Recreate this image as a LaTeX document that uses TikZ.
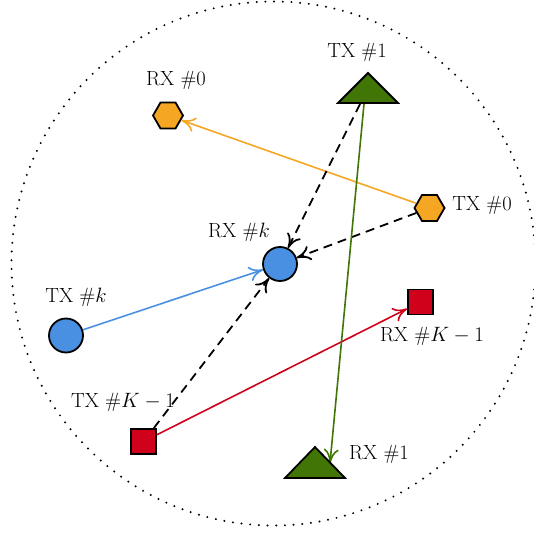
\documentclass[tikz,border=0pt]{standalone}
\usetikzlibrary{shapes.geometric,arrows.meta}
\definecolor{corange}{HTML}{F5A623}
\definecolor{cblue}{HTML}{4A90E2}
\definecolor{cred}{HTML}{D0021B}
\definecolor{cgreen}{HTML}{417505}
\tikzset{
  lbl/.style={font=\fontsize{20.5}{24}\selectfont, inner sep=0pt, anchor=base},
  hexa/.style={regular polygon, regular polygon sides=6, minimum size=30pt, inner sep=0pt, draw=black, line width=1.8pt, fill=corange},
  disc/.style={circle, minimum size=34pt, inner sep=0pt, draw=black, line width=1.8pt, fill=cblue},
  sq/.style={rectangle, minimum size=25pt, inner sep=0pt, draw=black, line width=1.8pt, fill=cred},
  tri/.style={draw=black, line width=1.8pt, fill=cgreen, line join=miter},
  link/.style={line width=1.6pt, -{To[length=14pt,width=15pt]}},
  interf/.style={link, black, line width=1.8pt, dash pattern=on 9pt off 6pt},
}
\begin{document}
\begin{tikzpicture}[x=1pt,y=-1pt]
\useasboundingbox (0,0) rectangle (533,534);
\draw[line width=2.2pt, line cap=round, dash pattern=on 0pt off 8.7pt] (273.5,263.5) circle[radius=262];
% nodes
\node[hexa] (rx0) at (168,115.5) {};
\node[hexa] (tx0) at (429.5,208) {};
\node[disc] (rxk) at (280,264) {};
\node[disc] (txk) at (66,335.5) {};
\node[sq] (rxK) at (420.5,302) {};
\node[sq] (txK) at (143.5,441.5) {};
\coordinate (tx1) at (368,90);
\filldraw[tri] (338,103) -- (368,73) -- (398,103) -- cycle;
\coordinate (tx1a) at (360,104);
\coordinate (tx1b) at (364,104);
\coordinate (rx1) at (315,463);
\coordinate (rx1e) at (330,463);
% labels
\node[lbl] (lrx0) at (176,86) {RX \#0};
\node[lbl] (ltx1) at (357,58) {TX \#1};
\node[lbl] (ltx0) at (482,211) {TX \#0};
\node[lbl] (lrxk) at (239,237) {RX $\#k$};
\node[lbl] (ltxk) at (76,302) {TX $\#k$};
\node[lbl] (lrxK) at (432,341) {RX $\#K-1$};
\node[lbl] (ltxK) at (123,407) {TX $\#K-1$};
\node[lbl] (lrx1) at (379,459) {RX \#1};
% connectors
\draw[link, corange] (tx0) -- (rx0);
\draw[link, cblue] (txk) -- (rxk);
\draw[link, cred] (txK) -- (rxK);
\draw[interf] (tx1a) -- (rxk);
\draw[interf] (tx0) -- (rxk);
\draw[interf] (txK) -- (rxk);
\draw[link, cgreen] (tx1b) -- (rx1e);
\filldraw[tri] (285,478) -- (315,447) -- (345,478) -- cycle;
\end{tikzpicture}
\end{document}
